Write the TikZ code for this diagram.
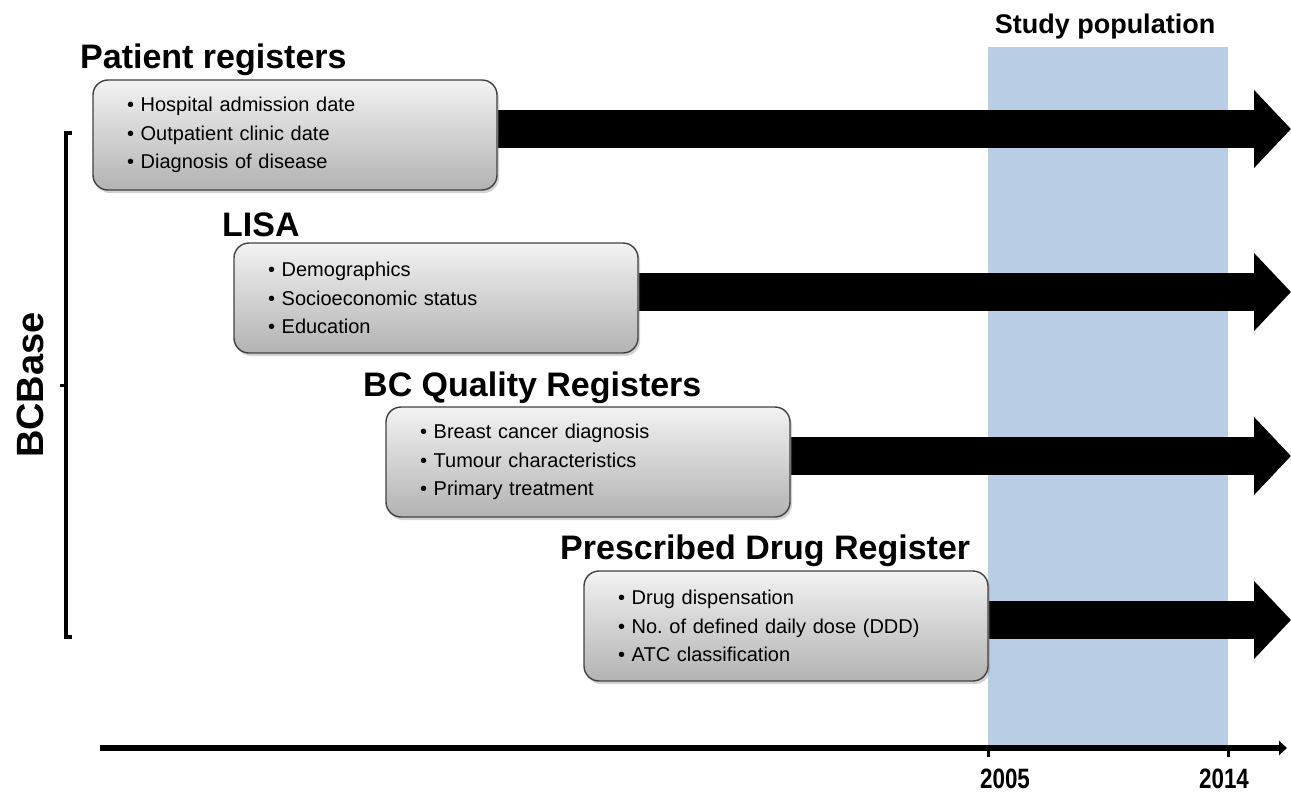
\documentclass[tikz,border=0pt]{standalone}
\usepackage{fontspec}
\setmainfont{Liberation Sans}
\usetikzlibrary{arrows.meta}
\usetikzlibrary{positioning}
\usetikzlibrary{shadows}
\usetikzlibrary{backgrounds}

\definecolor{studyblue}{HTML}{B9CDE5}

\begin{document}
\begin{tikzpicture}[x=1pt,y=-1pt,
  srcbox/.style={draw=black!75,line width=1.4pt,rounded corners=15pt,
    top color=black!5,bottom color=black!30,
    drop shadow={shadow xshift=2pt,shadow yshift=-3pt,opacity=0.35},
    minimum width=404pt,minimum height=110pt,text width=336pt,inner xsep=34pt,
    align=left,font=\fontsize{20}{28.5}\selectfont},
  regtitle/.style={anchor=west,inner sep=0pt,font=\fontsize{34}{40}\selectfont\bfseries},
  bigarrow/.style={line width=38pt,-{Triangle[length=37pt,width=76pt]}},
  yearlbl/.style={font=\fontsize{28}{32}\selectfont\bfseries,xscale=0.8}]
  \useasboundingbox (0,0) rectangle (1291,793);

  % source registers
  \node[srcbox] (patreg) at (295,135)
    {• Hospital admission date\\• Outpatient clinic date\\• Diagnosis of disease};
  \node[srcbox] (lisa) at (436,298)
    {• Demographics\\• Socioeconomic status\\• Education};
  \node[srcbox] (bcqual) at (588,462)
    {• Breast cancer diagnosis\\• Tumour characteristics\\• Primary treatment};
  \node[srcbox] (drugreg) at (786,626)
    {• Drug dispensation\\• No.\ of defined daily dose (DDD)\\• ATC classification};

  \node[regtitle] (patregt) at (80,60) {Patient registers};
  \node[regtitle] (lisat) at (222,225) {LISA};
  \node[regtitle] (bcqualt) at (363,388) {BC Quality Registers};
  \node[regtitle] (drugregt) at (560,551) {Prescribed Drug Register};

  \coordinate (end1) at (1291,129);
  \coordinate (end2) at (1291,292);
  \coordinate (end3) at (1291,456);
  \coordinate (end4) at (1291,620);

  \begin{scope}[on background layer]
    \fill[studyblue] (988,47) rectangle (1228,750);
    \draw[bigarrow] ([yshift=6pt]patreg.east) -- (end1);
    \draw[bigarrow] ([yshift=6pt]lisa.east) -- (end2);
    \draw[bigarrow] ([yshift=6pt]bcqual.east) -- (end3);
    \draw[bigarrow] ([yshift=6pt]drugreg.east) -- (end4);
  \end{scope}
  \node[font=\fontsize{27}{32}\selectfont\bfseries] (study) at (1105,27) {Study population};

  % BCBase bracket
  \coordinate (brtop) at (66,133);
  \coordinate (brbot) at (66,637);
  \coordinate (brmid) at (66,385);
  \draw[line width=4pt] ([xshift=6pt]brtop) -- (brtop) -- (brbot) -- ([xshift=6pt]brbot);
  \draw[line width=3pt] (brmid) -- ++(-6,0);
  \node[rotate=90,font=\fontsize{38}{44}\selectfont\bfseries] (bcbase) at (30,385) {BCBase};

  % time axis
  \coordinate (axstart) at (100,748);
  \coordinate (axend) at (1287,748);
  \coordinate (t2005) at (988,748);
  \coordinate (t2014) at (1228,748);
  \draw[line width=5.5pt,-{Triangle[length=8pt,width=14pt]}] (axstart) -- (axend);
  \draw[line width=3pt] (t2005) -- ++(0,9);
  \draw[line width=3pt] (t2014) -- ++(0,9);
  \node[yearlbl] (y2005) at (1005,779) {2005};
  \node[yearlbl] (y2014) at (1224,779) {2014};
\end{tikzpicture}
\end{document}
